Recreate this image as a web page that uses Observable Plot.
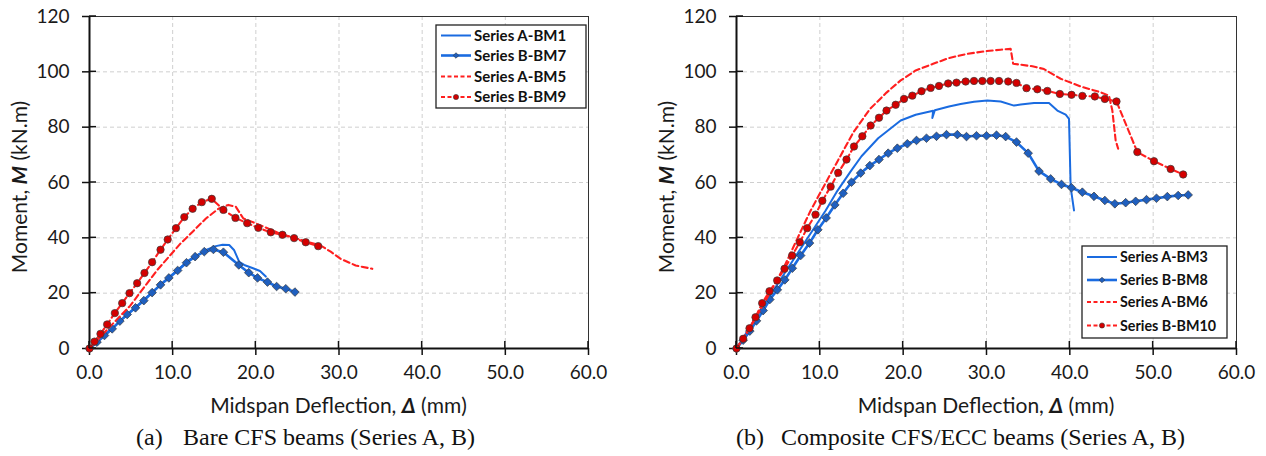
<!DOCTYPE html>
<html><head><meta charset="utf-8">
<script src="https://cdn.jsdelivr.net/npm/d3@7"></script>
<script src="https://cdn.jsdelivr.net/npm/@observablehq/plot@0.6"></script>
<style>
body{margin:0;background:#fff;width:1266px;height:456px;overflow:hidden;position:relative;font-family:Lato,sans-serif;}
.panel{position:absolute;top:0;}
.cap{position:absolute;top:423px;font-family:"Liberation Serif","Times New Roman",serif;font-size:24px;color:#111;white-space:nowrap;line-height:28px;}
</style></head><body>
<div id="a" class="panel" style="left:0"></div>
<div id="b" class="panel" style="left:640px"></div>
<div class="cap" style="left:136px">(a)</div>
<div class="cap" style="left:183px">Bare CFS beams (Series A, B)</div>
<div class="cap" style="left:736px">(b)</div>
<div class="cap" style="left:781px">Composite CFS/ECC beams (Series A, B)</div>
<script>
// ---- tick labels ----
const xTicks = [0, 10, 20, 30, 40, 50, 60];
const yTicks = [0, 20, 40, 60, 80, 100, 120];

// ---- panel (a): bare CFS beams ----
const bm1X = [0, 3, 6, 9, 12, 14, 15.2, 16, 16.8, 17.4, 18, 18.6, 19.5, 20.5, 21.2];
const bm1Y = [0, 8, 16.2, 24.3, 32, 35.6, 37, 37.5, 37.4, 35.5, 31.3, 30.2, 29.2, 28, 26];
const bm7X = [0, 0.9, 1.8, 2.73, 3.65, 4.53, 5.53, 6.53, 7.53, 8.54, 9.54, 10.6, 11.66, 12.7, 13.8, 14.9, 16.1, 17.95, 19.15, 20.2, 21.4, 22.5, 23.6, 24.7];
const bm7Y = [0, 2.3, 4.7, 7.1, 9.9, 12.3, 14.7, 17.3, 20.2, 23, 25.5, 28.2, 31, 33.2, 35, 35.8, 34.8, 30.2, 27.4, 25.5, 24, 22.4, 21.6, 20.4];
const bm5X = [0, 2.5, 4.9, 8.1, 10.9, 12.5, 14, 15.5, 16.7, 17.6, 18.5, 20.6, 23, 25.4, 27.8, 29, 30.2, 32, 34];
const bm5Y = [0, 8, 15.5, 28.2, 37.8, 42.5, 47, 50.5, 51.9, 51.2, 47, 44.5, 41.4, 39.3, 37.2, 35, 32.4, 30, 28.8];
const bm9X = [0, 0.6, 1.32, 2.12, 3.05, 3.93, 4.81, 5.73, 6.61, 7.53, 8.54, 9.4, 10.4, 11.4, 12.4, 13.5, 14.7, 16.1, 17.55, 18.96, 20.3, 21.8, 23.2, 24.6, 26, 27.5];
const bm9Y = [0, 2.5, 5.3, 8.7, 12.8, 16.4, 20, 23.6, 27.3, 31.2, 35.7, 39.4, 43.5, 47.5, 50.5, 52.9, 54.1, 50.1, 47.2, 45.3, 43.6, 42, 41.1, 39.9, 38.4, 37];

// ---- panel (b): composite CFS/ECC beams ----
const bm3X = [0, 2, 4, 6, 8, 10.7, 12, 13.7, 15, 17, 19.7, 21.5, 23.6, 23.5, 23.8, 25.5, 26.9, 28.5, 30.1, 31.7, 33.3, 34.1, 35.7, 37.5, 38.5, 39.5, 39.9, 40.1, 40.5];
const bm3Y = [0, 9.6, 19, 28.3, 37.5, 49.9, 56.5, 64, 69.5, 76, 82.4, 84.5, 85.9, 83.3, 86.1, 87.5, 88.4, 89.2, 89.6, 89.3, 87.8, 88.2, 88.7, 88.7, 86, 84.5, 83, 58.3, 49.9];
const bm8X = [0, 0.8, 1.6, 2.4, 3.2, 4, 4.9, 5.8, 6.7, 7.7, 8.76, 9.76, 10.76, 11.8, 12.8, 13.8, 14.9, 16, 17.1, 18.2, 19.3, 20.5, 21.6, 22.8, 24, 25.2, 26.5, 27.6, 28.8, 30, 31.2, 32.3, 33.6, 35, 36.3, 37.7, 39, 40.2, 41.5, 42.9, 44.2, 45.4, 46.7, 47.9, 49.2, 50.4, 51.7, 53, 54.2];
const bm8Y = [0, 3, 6.3, 10, 13.7, 17.7, 21.2, 24.8, 29, 33.6, 38.1, 42.9, 47.2, 51.9, 56.1, 60.1, 63.4, 66.1, 68.3, 70.6, 72.4, 74, 75.2, 76, 76.7, 77.3, 77.3, 76.6, 76.9, 76.9, 77.1, 76.6, 74.6, 70.6, 64.1, 61.3, 59.3, 58.1, 56.5, 55, 53.5, 52.3, 52.7, 53.2, 53.8, 54.3, 54.9, 55.3, 55.5];
const bm6X = [0, 2, 4, 5.7, 7.5, 8.9, 10, 12, 14, 16, 18, 19.7, 21.5, 23.6, 25.5, 27.7, 30, 31.7, 32.9, 33.2, 34.1, 35.5, 36.9, 38.9, 41.3, 43.7, 44.7, 45.1, 45.5, 45.8];
const bm6Y = [0, 9.5, 20, 29.4, 41, 49.9, 56, 67, 78, 86.5, 92.5, 96.9, 100.5, 102.9, 105, 106.5, 107.5, 108, 108.3, 102.9, 102.6, 102, 101, 97.5, 94.7, 92.6, 91.4, 86, 75.2, 72.2];
const bm10X = [0, 0.8, 1.56, 2.28, 3.08, 3.96, 4.88, 5.76, 6.68, 7.6, 8.48, 9.48, 10.3, 11.3, 12.2, 13.2, 14.1, 15.1, 16.1, 17.1, 18, 19.1, 20.1, 21.1, 22.2, 23.3, 24.3, 25.4, 26.4, 27.5, 28.5, 29.5, 30.5, 31.5, 32.6, 33.6, 34.8, 36.1, 37.3, 38.8, 40.2, 41.5, 43, 44.2, 45.6, 48.1, 50.1, 52.1, 53.6];
const bm10Y = [0, 3.5, 7.3, 11.3, 16.4, 20.7, 24.6, 28.8, 33.6, 38.4, 43.5, 48.4, 53.4, 58.5, 63.5, 68.3, 73, 76.7, 80.6, 83.4, 86, 88.1, 90.2, 91.4, 93, 94.2, 94.9, 95.8, 96.1, 96.5, 96.7, 96.7, 96.7, 96.7, 96.5, 96, 94.1, 93.7, 93.1, 92, 91.7, 91.3, 91.1, 90.2, 89.3, 71, 67.7, 64.9, 62.9];

const BLUE = "#1a6be0", RED = "#ff1f1f";
const styles = {
  solidBlue: {stroke: BLUE, width: 2, dash: null, symbol: null},
  diamondBlue: {stroke: BLUE, width: 2.6, dash: null, symbol: "diamond2", fill: "#1f5fbf"},
  dashRed: {stroke: RED, width: 2.1, dash: "6,3.5", symbol: null},
  circleRed: {stroke: RED, width: 2.1, dash: "6,3.5", symbol: "circle", fill: "#d40000"}
};
const pts = (xs, ys) => xs.map((x, i) => ({x, y: ys[i]}));

function seriesMarks(s) {
  const d = pts(s.x, s.y), st = styles[s.style];
  const m = [Plot.line(d, {x: "x", y: "y", stroke: st.stroke, strokeWidth: st.width, strokeDasharray: st.dash})];
  if (st.symbol) m.push(Plot.dot(d, {x: "x", y: "y", symbol: st.symbol, r: st.symbol === "circle" ? 3.7 : 3.9, fill: st.fill, stroke: "#3a3a3a", strokeWidth: 0.7}));
  return m;
}

function panel(el, width, mL, mR, series, leg) {
  const grid = {stroke: "#cfcfcf", strokeOpacity: 1, strokeDasharray: "4,3", strokeWidth: 1};
  const p = Plot.plot({
    width, height: 420, marginLeft: mL, marginRight: mR, marginTop: 16, marginBottom: 72,
    x: {domain: [0, 60]}, y: {domain: [0, 120]},
    style: {fontFamily: "Lato, sans-serif", fontSize: "19px", color: "#1a1a1a", background: "#fff", overflow: "visible"},
    marks: [
      Plot.gridX(xTicks.filter(d => d > 0), grid),
      Plot.gridY(yTicks.filter(d => d > 0), grid),
      Plot.frame({stroke: "#333", strokeWidth: 1}),
      Plot.axisX(xTicks, {tickSize: 7, tickPadding: 10, tickFormat: d => d.toFixed(1), label: null, fontSize: 19, strokeWidth: 1.5, stroke: "#111"}),
      Plot.axisY(yTicks, {tickSize: 7, tickPadding: 13, label: null, fontSize: 19, strokeWidth: 1.5, stroke: "#111"}),
      Plot.ruleX([0], {stroke: "#111", strokeWidth: 2}),
      Plot.ruleY([0], {stroke: "#111", strokeWidth: 2}),
      ...series.flatMap(seriesMarks)
    ]
  });
  el.appendChild(p);
  const sx = p.scale("x"), sy = p.scale("y");
  const svg = d3.select(p);
  const x0 = sx.apply(0), y0 = sy.apply(0);
  // inward halves of the crossing ticks
  const g = svg.append("g").attr("stroke", "#111").attr("stroke-width", 1.5);
  xTicks.forEach(t => g.append("line").attr("x1", sx.apply(t)).attr("x2", sx.apply(t)).attr("y1", y0 - 7).attr("y2", y0));
  yTicks.forEach(t => g.append("line").attr("x1", x0).attr("x2", x0 + 7).attr("y1", sy.apply(t)).attr("y2", sy.apply(t)));
  // axis titles
  const xl = svg.append("text").attr("x", (sx.apply(0) + sx.apply(60)) / 2).attr("y", 413).attr("text-anchor", "middle")
    .attr("font-family", "Lato, sans-serif").attr("font-size", 21).attr("fill", "#1a1a1a");
  xl.append("tspan").text("Midspan Deflection, ");
  xl.append("tspan").attr("font-weight", "bold").attr("font-style", "italic").text("Δ");
  xl.append("tspan").text(" (mm)");
  const yl = svg.append("text").attr("transform", `translate(${x0 - 62},${(sy.apply(0) + sy.apply(120)) / 2 + 5}) rotate(-90)`)
    .attr("text-anchor", "middle").attr("font-family", "Lato, sans-serif").attr("font-size", 21).attr("fill", "#1a1a1a");
  yl.append("tspan").text("Moment, ");
  yl.append("tspan").attr("font-weight", "bold").attr("font-style", "italic").text("M");
  yl.append("tspan").text(" (kN.m)");
  // legend
  const lg = svg.append("g").attr("text-anchor", "start");
  lg.append("rect").attr("x", leg.x).attr("y", leg.y).attr("width", leg.w).attr("height", leg.h)
    .attr("fill", "#fff").attr("stroke", "#222").attr("stroke-width", 1.3);
  series.forEach((s, i) => {
    const st = styles[s.style];
    const yy = leg.rows[i], lx1 = leg.x + 5, lx2 = leg.x + 35;
    lg.append("line").attr("x1", lx1).attr("x2", lx2).attr("y1", yy).attr("y2", yy)
      .attr("stroke", st.stroke).attr("stroke-width", st.width).attr("stroke-dasharray", st.dash ? "4,2.5" : null);
    if (st.symbol === "circle") lg.append("circle").attr("cx", (lx1 + lx2) / 2).attr("cy", yy).attr("r", 2.6).attr("fill", st.fill).attr("stroke", "#333").attr("stroke-width", 0.6);
    if (st.symbol === "diamond2") lg.append("path").attr("d", d3.symbol(d3.symbolDiamond2, 20)()).attr("transform", `translate(${(lx1 + lx2) / 2},${yy})`).attr("fill", st.fill).attr("stroke", "#333").attr("stroke-width", 0.6);
    lg.append("text").attr("x", lx2 + 3).attr("y", yy).attr("dy", "0.35em").attr("text-anchor", "start").attr("font-family", "Lato, sans-serif")
      .attr("font-weight", "bold").attr("font-size", leg.fs).attr("fill", "#111").text(s.name);
  });
}

panel(document.getElementById("a"), 600, 89, 12, [
  {name: "Series A-BM1", x: bm1X, y: bm1Y, style: "solidBlue"},
  {name: "Series B-BM7", x: bm7X, y: bm7Y, style: "diamondBlue"},
  {name: "Series A-BM5", x: bm5X, y: bm5Y, style: "dashRed"},
  {name: "Series B-BM9", x: bm9X, y: bm9Y, style: "circleRed"}
], {x: 436, y: 25, w: 150, h: 83, rows: [35.5, 55.5, 76.5, 97], fs: 15});

panel(document.getElementById("b"), 610, 96, 14, [
  {name: "Series A-BM3", x: bm3X, y: bm3Y, style: "solidBlue"},
  {name: "Series B-BM8", x: bm8X, y: bm8Y, style: "diamondBlue"},
  {name: "Series A-BM6", x: bm6X, y: bm6Y, style: "dashRed"},
  {name: "Series B-BM10", x: bm10X, y: bm10Y, style: "circleRed"}
], {x: 1082 - 640, y: 246, w: 145, h: 92, rows: [257, 280, 302, 325.5], fs: 14.3});
</script>
</body></html>
